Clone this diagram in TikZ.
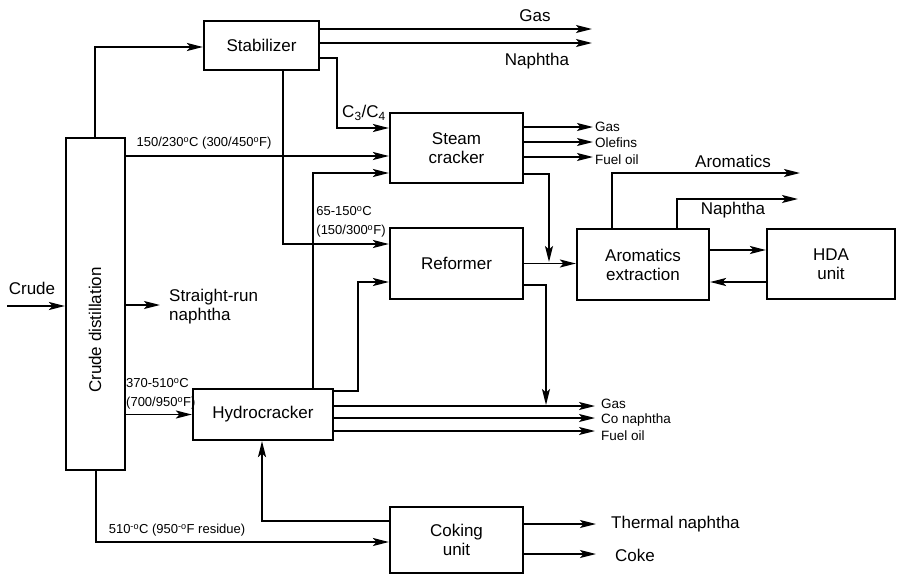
\documentclass[tikz,border=0pt]{standalone}
\usepackage{fontspec}
\setmainfont{Liberation Sans}
\usetikzlibrary{arrows.meta,calc}
\newcommand{\bigf}{\fontsize{17}{19}\selectfont}
\newcommand{\smallf}{\fontsize{13}{19}\selectfont}
\newcommand{\tinyf}{\fontsize{13.5}{14}\selectfont}
\newcommand{\dg}{\textsuperscript{o}}
\begin{document}
\begin{tikzpicture}[x=1pt,y=-1pt,
  box/.style={draw, line width=2.2pt, inner sep=0pt, align=center, font=\bigf},
  flow/.style={line width=1.9pt, -{Stealth[length=16pt,width=8pt,inset=3.5pt]}},
  lbl/.style={inner sep=0pt, font=\bigf, align=left},
  slbl/.style={inner sep=0pt, font=\smallf, align=left},
  tlbl/.style={inner sep=0pt, font=\tinyf, anchor=west}]
\useasboundingbox (0,0) rectangle (897,576);
% boxes
\node[box, minimum width=59pt, minimum height=332pt] (cd) at (95.5,304) {};
\node[rotate=90, lbl] (cdl) at (95,330) {Crude distillation};
\node[box, minimum width=115pt, minimum height=49pt] (stab) at (261.5,45.5) {Stabilizer};
\node[box, minimum width=133pt, minimum height=70pt] (steam) at (456.5,148) {Steam\\cracker};
\node[box, minimum width=133pt, minimum height=71pt] (ref) at (456.5,263.5) {Reformer};
\node[box, minimum width=132pt, minimum height=71pt] (arom) at (643,264.5) {Aromatics\\extraction};
\node[box, minimum width=128pt, minimum height=70pt] (hda) at (831,264) {HDA\\unit};
\node[box, minimum width=140pt, minimum height=51pt] (hydro) at (263,414.5) {Hydrocracker};
\node[box, minimum width=133pt, minimum height=66pt] (cok) at (456.5,540) {Coking\\unit};
% crude feed
\coordinate (crudeS) at (7,306);
\draw[flow] (crudeS) -- (crudeS -| cd.west);
\node[lbl] (crudel) at (32,288) {Crude};
% to stabilizer
\coordinate (k1) at (95,47);
\draw[flow] (k1 |- cd.north) -- (k1) -- (k1 -| stab.west);
% stabilizer products
\coordinate (gasT) at (592,29);
\draw[flow] (gasT -| stab.east) -- (gasT);
\node[lbl] (gasTl) at (535,16) {Gas};
\coordinate (napT) at (592,43);
\draw[flow] (napT -| stab.east) -- (napT);
\node[lbl] (napTl) at (537,61) {Naphtha};
\coordinate (c34) at (337,128);
\draw[flow] ($(stab.east)+(0,12.5)$) -| (c34) -- (c34 -| steam.west);
\node[lbl] (c34l) at (364,113) {C\textsubscript{3}/C\textsubscript{4}};
\coordinate (k2) at (283,244);
\draw[flow] (k2 |- stab.south) -- (k2) -- (k2 -| ref.west);
\node[slbl] (t65) at (351,222) {65-150\dg C\\(150/300\dg F)};
% 150/230 cut
\coordinate (k3) at (0,156);
\draw[flow] (k3 -| cd.east) -- (k3 -| steam.west);
\node[slbl] (t150) at (204,143) {150/230\dg C (300/450\dg F)};
% hydrocracker to steam cracker
\coordinate (k4) at (313,173);
\draw[flow] (k4 |- hydro.north) -- (k4) -- (k4 -| steam.west);
% steam cracker products
\coordinate (s1) at (593,127);
\coordinate (s2) at (593,142);
\coordinate (s3) at (593,157);
\draw[flow] (s1 -| steam.east) -- (s1);
\draw[flow] (s2 -| steam.east) -- (s2);
\draw[flow] (s3 -| steam.east) -- (s3);
\node[tlbl] (s1l) at (595,127) {Gas};
\node[tlbl] (s2l) at (595,143) {Olefins};
\node[tlbl] (s3l) at (595,160) {Fuel oil};
\coordinate (k5) at (549,262);
\draw[flow] ($(steam.east)+(0,26)$) -| (k5);
% reformer
\draw[flow] (ref.east) -- (ref.east -| arom.west);
\coordinate (k6) at (546,405);
\draw[flow] ($(ref.east)+(0,21.5)$) -| (k6);
% aromatics extraction products
\coordinate (aromT) at (800,173);
\draw[flow] ($(arom.north)+(-31,0)$) |- (aromT);
\node[lbl] (aromTl) at (733,161) {Aromatics};
\coordinate (naphA) at (798,199);
\draw[flow] ($(arom.north)+(34,0)$) |- (naphA);
\node[lbl] (naphAl) at (733,210) {Naphtha};
\coordinate (k7) at (0,250);
\draw[flow] (k7 -| arom.east) -- (k7 -| hda.west);
\coordinate (k8) at (0,282);
\draw[flow] (k8 -| hda.west) -- (k8 -| arom.east);
% straight-run naphtha
\coordinate (srn) at (160,305);
\draw[flow] (srn -| cd.east) -- (srn);
\node[lbl, anchor=west] (srnl) at (169,307) {Straight-run\\naphtha};
% hydrocracker feed
\draw[flow] (hydro.west -| cd.east) -- (hydro.west);
\node[slbl, anchor=west] (t370) at (126,394) {370-510\dg C\\(700/950\dg F)};
% hydrocracker to reformer
\coordinate (k9) at (358,282);
\draw[flow] ($(hydro.north east)+(0,3)$) -| (k9) -- (k9 -| ref.west);
% hydrocracker products
\coordinate (h1) at (595,406);
\coordinate (h2) at (595,418);
\coordinate (h3) at (595,431);
\draw[flow] (h1 -| hydro.east) -- (h1);
\draw[flow] (h2 -| hydro.east) -- (h2);
\draw[flow] (h3 -| hydro.east) -- (h3);
\node[tlbl] (h1l) at (601,404) {Gas};
\node[tlbl] (h2l) at (601,420) {Co naphtha};
\node[tlbl] (h3l) at (601,436) {Fuel oil};
% coking to hydrocracker
\coordinate (k10) at (262,521);
\draw[flow] (k10 -| cok.west) -- (k10) -- (k10 |- hydro.south);
% residue to coking
\coordinate (k11) at (96,542);
\draw[flow] (k11 |- cd.south) -- (k11) -- (k11 -| cok.west);
\node[slbl] (t510) at (177,530) {510\textsuperscript{-o}C (950\textsuperscript{-o}F residue)};
% coking products
\coordinate (c1) at (596,524);
\coordinate (c2) at (596,554);
\draw[flow] (c1 -| cok.east) -- (c1);
\draw[flow] (c2 -| cok.east) -- (c2);
\node[lbl, anchor=west] (c1l) at (611,524) {Thermal naphtha};
\node[lbl, anchor=west] (c2l) at (615,555) {Coke};
\end{tikzpicture}
\end{document}
